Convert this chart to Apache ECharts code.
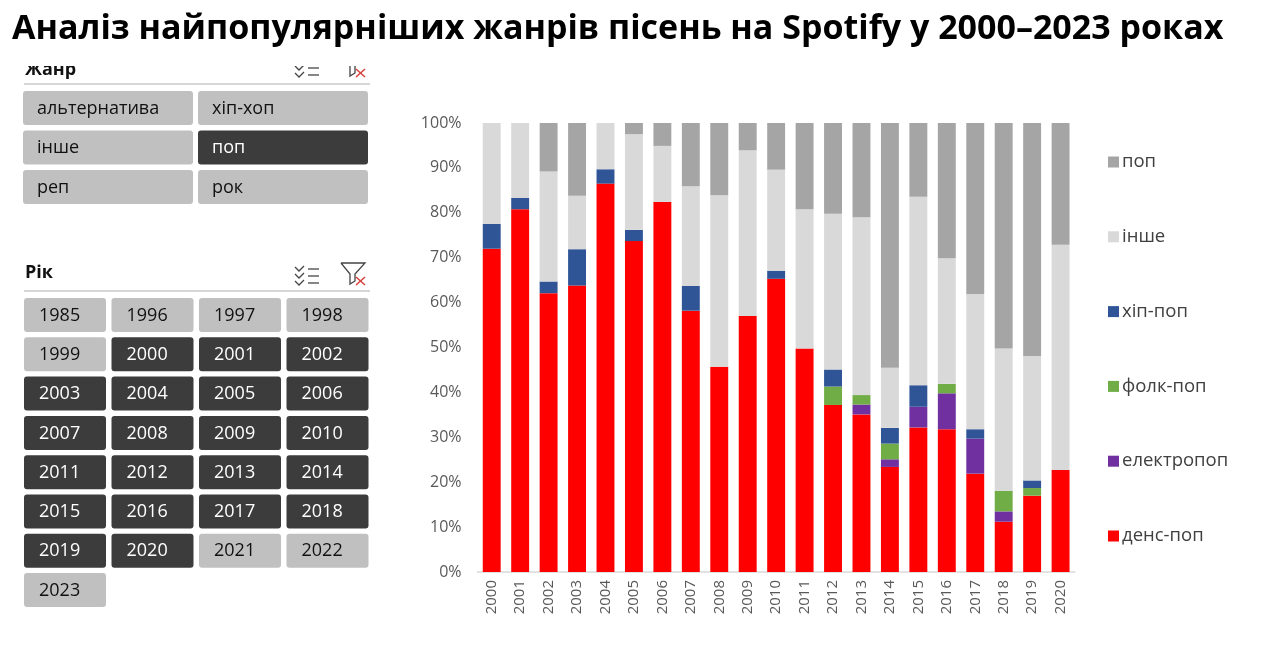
<!DOCTYPE html>
<html><head><meta charset="utf-8">
<script src="https://cdn.jsdelivr.net/npm/echarts@6/dist/echarts.min.js"></script>
<style>html,body{margin:0;padding:0;background:#fff}#c{width:1263px;height:654px}</style>
</head><body><div id="c"></div>
<script>
const titleText = 'Аналіз найпопулярніших жанрів пісень на Spotify у 2000–2023 роках';
const years = ['2000','2001','2002','2003','2004','2005','2006','2007','2008','2009','2010','2011','2012','2013','2014','2015','2016','2017','2018','2019','2020'];
const dancePop  = [72.0,80.8,62.1,63.8,86.5,73.7,82.4,58.2,45.7,57.0,65.3,49.8,37.2,35.1,23.4,32.2,31.8,21.9,11.2,17.0,22.7];
const electroPop= [0,0,0,0,0,0,0,0,0,0,0,0,0,2.2,1.7,4.6,8.0,7.8,2.3,0,0];
const folkPop   = [0,0,0,0,0,0,0,0,0,0,0,0,4.1,2.1,3.5,0,2.1,0,4.6,1.7,0];
const hipPop    = [5.5,2.5,2.6,8.1,3.2,2.5,0,5.5,0,0,1.8,0,3.8,0,3.5,4.8,0,2.1,0,1.7,0];
const other     = [22.5,16.7,24.5,11.9,10.3,21.3,12.5,22.2,38.2,36.9,22.5,31.0,34.7,39.6,13.4,42.0,28.0,30.1,31.7,27.7,50.2];
const pop       = [0,0,10.8,16.2,0,2.5,5.1,14.1,16.1,6.1,10.4,19.2,20.2,21.0,54.5,16.4,30.1,38.1,50.2,51.9,27.1];
const yTicks = [0,10,20,30,40,50,60,70,80,90,100];

const genreHeader = 'Жанр';
const genreButtons = ['альтернатива','хіп-хоп','інше','поп','реп','рок'];
const genreSelected = ['поп'];
const yearHeader = 'Рік';
const yearButtons = ['1985','1996','1997','1998','1999','2000','2001','2002','2003','2004','2005','2006','2007','2008','2009','2010','2011','2012','2013','2014','2015','2016','2017','2018','2019','2020','2021','2022','2023'];
const yearSelected = ['2000','2001','2002','2003','2004','2005','2006','2007','2008','2009','2010','2011','2012','2013','2014','2015','2016','2017','2018','2019','2020'];

const FONT = '"Open Sans", "Noto Sans", sans-serif';
const LIGHT = '#c0c0c0', DARK = '#3c3c3c';
const g = [];

// slicer icons
function icons(baseY, z) {
  for (let i = 0; i < 3; i++) {
    const y = baseY - 16 + i * 7;
    g.push({type:'polyline', z, shape:{points:[[295,y],[299,y+4],[304,y-1]]}, style:{stroke:'#444', lineWidth:1.3, fill:null}});
    g.push({type:'line', z, shape:{x1:308,y1:y+2,x2:319,y2:y+2}, style:{stroke:'#444', lineWidth:1.3}});
  }
  g.push({type:'polyline', z, shape:{points:[[341,baseY-20],[365,baseY-20],[355,baseY-9],[355,baseY-2],[350,baseY+1],[350,baseY-9],[341,baseY-20]]}, style:{stroke:'#444', lineWidth:1.3, fill:null}});
  g.push({type:'line', z, shape:{x1:356,y1:baseY-6,x2:365,y2:baseY+2}, style:{stroke:'#d9403a', lineWidth:1.5}});
  g.push({type:'line', z, shape:{x1:365,y1:baseY-6,x2:356,y2:baseY+2}, style:{stroke:'#d9403a', lineWidth:1.5}});
}

// Genre slicer (header clipped at top)
g.push({type:'text', z:1, style:{text:genreHeader, x:25, y:70, font:'bold 18px ' + FONT, fill:'#111', textVerticalAlign:'middle'}});
icons(75, 1);
g.push({type:'rect', z:5, shape:{x:0,y:46,width:400,height:20}, style:{fill:'#fff'}});
g.push({type:'line', z:6, shape:{x1:24,y1:84,x2:370,y2:84}, style:{stroke:'#c8c8c8', lineWidth:1.5}});
genreButtons.forEach((name, i) => {
  const col = i % 2, row = Math.floor(i / 2);
  const x = 23 + col * 175, y = 91 + row * 39.5;
  const sel = genreSelected.includes(name);
  g.push({type:'rect', z:6, shape:{x, y, width:170, height:34, r:3}, style:{fill: sel ? DARK : LIGHT}});
  g.push({type:'text', z:7, style:{text:name, x:x+14, y:y+17.5, font:'18px ' + FONT, fill: sel ? '#fff' : '#111', textVerticalAlign:'middle'}});
});

// Year slicer
g.push({type:'text', z:6, style:{text:yearHeader, x:25, y:273, font:'bold 18px ' + FONT, fill:'#111', textVerticalAlign:'middle'}});
icons(283, 6);
g.push({type:'line', z:6, shape:{x1:24,y1:291,x2:370,y2:291}, style:{stroke:'#c8c8c8', lineWidth:1.5}});
yearButtons.forEach((name, i) => {
  const col = i % 4, row = Math.floor(i / 4);
  const x = 24 + col * 87.5, y = 298 + row * 39.3;
  const sel = yearSelected.includes(name);
  g.push({type:'rect', z:6, shape:{x, y, width:82, height:34, r:3}, style:{fill: sel ? DARK : LIGHT}});
  g.push({type:'text', z:7, style:{text:name, x:x+15, y:y+17.5, font:'18px ' + FONT, fill: sel ? '#fff' : '#111', textVerticalAlign:'middle'}});
});

// Title
g.push({type:'text', z:10, style:{text:titleText, x:12, y:29, font:'bold 34px ' + FONT, fill:'#000', textVerticalAlign:'middle'}});

const seriesDefs = [
  {name:'денс-поп', data:dancePop, color:'#ff0000'},
  {name:'електропоп', data:electroPop, color:'#7030a0'},
  {name:'фолк-поп', data:folkPop, color:'#70ad47'},
  {name:'хіп-поп', data:hipPop, color:'#2f5597'},
  {name:'інше', data:other, color:'#d9d9d9'},
  {name:'поп', data:pop, color:'#a5a5a5'}
];

const chart = echarts.init(document.getElementById('c'));
chart.setOption({
  animation:false,
  backgroundColor:'#fff',
  graphic: g,
  grid:{left:477.5, width:597.3, top:123, height:449, containLabel:false},
  legend:{
    orient:'vertical', left:1103, top:147,
    data:['поп','інше','хіп-поп','фолк-поп','електропоп','денс-поп'],
    icon:'rect', itemWidth:11, itemHeight:11, itemGap:54.8,
    textStyle:{fontFamily:FONT, fontSize:18.5, color:'#404040', lineHeight:20, padding:[0,0,0,-2]}
  },
  xAxis:{
    type:'category', data:years,
    axisLine:{show:true, lineStyle:{color:'#d9d9d9', width:1.5}},
    axisTick:{show:false},
    axisLabel:{rotate:90, fontFamily:FONT, fontSize:15, color:'#595959', margin:8}
  },
  yAxis:{
    type:'value', min:0, max:100, interval:10,
    axisLine:{show:false}, axisTick:{show:false}, splitLine:{show:false},
    axisLabel:{formatter:'{value}%', fontFamily:FONT, fontSize:16, color:'#595959', margin:16,
      customValues: yTicks}
  },
  series: seriesDefs.map(s => ({
    name:s.name, type:'bar', stack:'total', data:s.data, barWidth:'63%',
    itemStyle:{color:s.color}
  }))
});
</script></body></html>
